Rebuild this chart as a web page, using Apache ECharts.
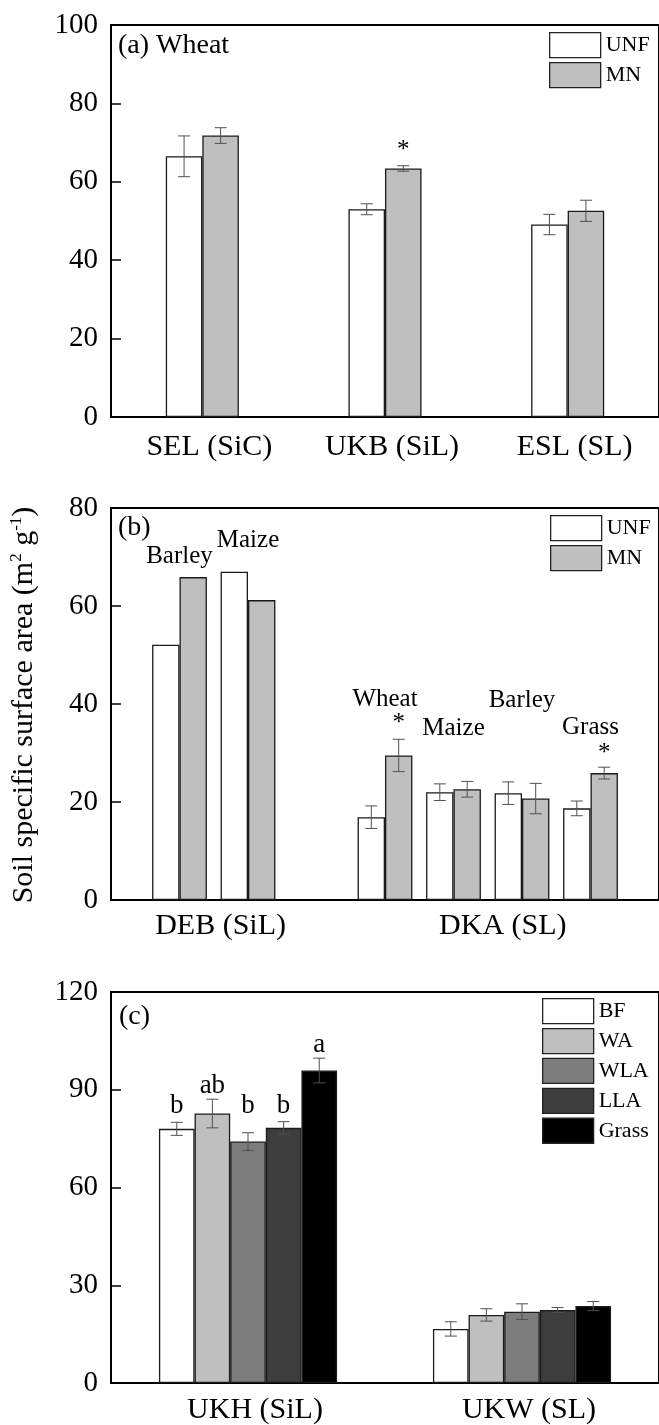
<!DOCTYPE html>
<html><head><meta charset="utf-8">
<script src="https://cdn.jsdelivr.net/npm/echarts@6/dist/echarts.min.js"></script>
<style>html,body{margin:0;padding:0;background:#fff}#c{width:659px;height:1425px}</style>
</head><body><div id="c"></div>
<script>
// ---------- Panel (a) Wheat ----------
const catsA = ['SEL (SiC)', 'UKB (SiL)', 'ESL (SL)'];
const unfA = [66.5, 53.0, 49.1];
const unfErrA = [5.2, 1.4, 2.6];
const mnA = [71.8, 63.4, 52.6];
const mnErrA = [2.0, 0.7, 2.7];
const sigMnA = ['', '*', ''];
const sigHeightA = [null, 68, null];
const yTicksA = [0, 20, 40, 60, 80, 100];

// ---------- Panel (b) ----------
const slotsB = ['', 'Barley', 'Maize', '', 'Wheat', 'Maize', 'Barley', 'Grass', ''];
const unfB = [null, 52.1, 67.0, null, 16.9, 22.0, 21.8, 18.7, null];
const unfErrB = [null, null, null, null, 2.3, 1.7, 2.3, 1.5, null];
const mnB = [null, 65.9, 61.2, null, 29.5, 22.6, 20.7, 25.9, null];
const mnErrB = [null, null, null, null, 3.3, 1.6, 3.1, 1.2, null];
const cropLabelHeightB = [null, 70.1, 73.3, null, 41.0, 35.0, 40.7, 35.2, null];
const sigMnB = ['', '', '', '', '*', '', '', '*', ''];
const sigHeightB = [null, null, null, null, 36.0, null, null, 29.9, null];
const siteLabelsB = ['DEB (SiL)', 'DKA (SL)'];
const siteLabelPosB = [1.6, 5.72];
const yTicksB = [0, 20, 40, 60, 80];

// ---------- Panel (c) ----------
const catsC = ['UKH (SiL)', 'UKW (SL)'];
const treatC = ['BF', 'WA', 'WLA', 'LLA', 'Grass'];
const bfC = [78.0, 16.6];     const bfErrC = [2.0, 2.2];
const waC = [82.7, 20.9];     const waErrC = [4.4, 1.9];
const wlaC = [74.1, 21.9];    const wlaErrC = [2.7, 2.4];
const llaC = [78.3, 22.4];    const llaErrC = [1.9, 0.75];
const grassC = [95.9, 23.6];  const grassErrC = [3.8, 1.4];
const lettersUKH = ['b', 'ab', 'b', 'b', 'a'];
const letterHeightUKH = [84.9, 91.2, 84.9, 84.9, 103.8];
const yTicksC = [0, 30, 60, 90, 120];

// ---------- styling ----------
const FONT = '"Liberation Serif", "Times New Roman", serif';
const ERR = '#505050';
const colorsAB = ['#ffffff', '#bfbfbf'];
const colorsC = ['#ffffff', '#bfbfbf', '#7d7d7d', '#3d3d3d', '#000000'];

function yAxis(gi, ticks) {
  return {
    type: 'value', gridIndex: gi, min: ticks[0], max: ticks[ticks.length - 1], interval: ticks[1] - ticks[0],
    axisLine: { show: true, lineStyle: { color: '#000', width: 2 } },
    axisTick: { show: true, inside: true, length: 10, lineStyle: { color: '#000', width: 1.5 } },
    axisLabel: { fontSize: 29, fontFamily: FONT, color: '#000', margin: 13 },
    splitLine: { show: false }
  };
}
function bar(name, data, color, xi, yi, width) {
  return {
    type: 'bar', name, data, xAxisIndex: xi, yAxisIndex: yi, barWidth: width, barGap: '0%',
    itemStyle: { color, borderColor: '#1a1a1a', borderWidth: 1.3 }, z: 2, silent: true
  };
}
function errSeries(xi, yi, vals, errs, frac) {
  const data = [];
  vals.forEach((v, i) => { if (v != null && errs[i] != null) data.push([i, v, errs[i]]); });
  return {
    type: 'custom', xAxisIndex: xi, yAxisIndex: yi, z: 5, silent: true, data, encode: { x: 0, y: 1 },
    renderItem: (p, api) => {
      const i = api.value(0), v = api.value(1), e = api.value(2);
      const band = api.size([1, 0])[0];
      const x = api.coord([i, v])[0] + frac * band;
      const yt = api.coord([i, v + e])[1], yb = api.coord([i, v - e])[1];
      const c = 6, st = { stroke: ERR, lineWidth: 1 };
      return { type: 'group', children: [
        { type: 'line', shape: { x1: x, y1: yt, x2: x, y2: yb }, style: st },
        { type: 'line', shape: { x1: x - c, y1: yt, x2: x + c, y2: yt }, style: st },
        { type: 'line', shape: { x1: x - c, y1: yb, x2: x + c, y2: yb }, style: st }
      ] };
    }
  };
}
function textSeries(xi, yi, items, size) {
  return {
    type: 'custom', xAxisIndex: xi, yAxisIndex: yi, z: 6, silent: true,
    data: items.map((it, k) => [it.cat, it.h, k]), encode: { x: 0, y: 1 },
    renderItem: (p, api) => {
      const it = items[api.value(2)];
      const band = api.size([1, 0])[0];
      const pt = api.coord([it.cat, it.h]);
      return { type: 'text', x: pt[0] + it.frac * band, y: pt[1],
        style: { text: it.text, fill: '#000', fontSize: size, fontFamily: FONT,
          align: 'center', verticalAlign: 'middle', textAlign: 'center', textVerticalAlign: 'middle' } };
    }
  };
}
function items(texts, heights, frac) {
  const out = [];
  texts.forEach((t, i) => { if (t && heights[i] != null) out.push({ cat: i, h: heights[i], text: t, frac }); });
  return out;
}
function legend(names, left, top) {
  return {
    data: names, orient: 'vertical', left, top, padding: 0, itemWidth: 51, itemHeight: 25, itemGap: 3.6,
    icon: 'rect', selectedMode: false,
    itemStyle: { borderColor: '#222', borderWidth: 1.3 },
    textStyle: { fontSize: 22, fontFamily: FONT, color: '#000', padding: [0, 0, 0, 0] }
  };
}
const catLabel = (margin) => ({ fontSize: 30, fontFamily: FONT, color: '#000', margin, padding: [0, 0, 0, 14], interval: 0 });
const gridBase = { left: 111, right: -3, height: 392, show: true, borderColor: '#000', borderWidth: 2, backgroundColor: 'transparent' };

const lettersItems = lettersUKH.map((t, k) => ({ cat: 0, h: letterHeightUKH[k], text: t, frac: (k - 2) * 0.13 }));

const option = {
  animation: false,
  backgroundColor: '#fff',
  textStyle: { fontFamily: FONT },
  grid: [
    Object.assign({ top: 25 }, gridBase),
    Object.assign({ top: 508 }, gridBase),
    Object.assign({ top: 992 }, gridBase)
  ],
  xAxis: [
    { type: 'category', gridIndex: 0, position: 'bottom', data: catsA, axisLine: { lineStyle: { color: '#000', width: 2 } },
      axisTick: { show: false }, axisLabel: catLabel(15) },
    { type: 'category', gridIndex: 1, position: 'bottom', data: slotsB, boundaryGap: false, axisLine: { lineStyle: { color: '#000', width: 2 } },
      axisTick: { show: false }, axisLabel: { show: false } },
    { type: 'value', gridIndex: 1, position: 'bottom', min: 0, max: slotsB.length - 1, axisLine: { show: false }, axisTick: { show: false },
      splitLine: { show: false },
      axisLabel: { fontSize: 30, fontFamily: FONT, color: '#000', margin: 11, customValues: siteLabelPosB,
        formatter: (v) => { const k = siteLabelPosB.indexOf(v); return k >= 0 ? siteLabelsB[k] : ''; } } },
    { type: 'category', gridIndex: 2, position: 'bottom', data: catsC, axisLine: { lineStyle: { color: '#000', width: 2 } },
      axisTick: { show: false }, axisLabel: catLabel(12) }
  ],
  yAxis: [yAxis(0, yTicksA), yAxis(1, yTicksB), yAxis(2, yTicksC)],
  legend: [
    legend(['UNF', 'MN'], 549, 32),
    legend(['UNF', 'MN'], 550, 515),
    legend(treatC, 542, 998)
  ],
  graphic: [
    { type: 'text', x: 118, y: 46, style: { text: '(a) Wheat', fill: '#000', fontSize: 28, fontFamily: FONT, align: 'left', verticalAlign: 'middle', textAlign: 'left', textVerticalAlign: 'middle' } },
    { type: 'text', x: 118, y: 528, style: { text: '(b)', fill: '#000', fontSize: 28, fontFamily: FONT, align: 'left', verticalAlign: 'middle', textAlign: 'left', textVerticalAlign: 'middle' } },
    { type: 'text', x: 119, y: 1017, style: { text: '(c)', fill: '#000', fontSize: 28, fontFamily: FONT, align: 'left', verticalAlign: 'middle', textAlign: 'left', textVerticalAlign: 'middle' } },
    { type: 'text', x: 24, y: 705, rotation: Math.PI / 2,
      style: { text: '{n|Soil specific surface area (m}{s|2}{n| g}{s|-1}{n|)}', fill: '#000',
        align: 'center', verticalAlign: 'middle', textAlign: 'center', textVerticalAlign: 'middle',
        rich: { n: { fontSize: 30, fontFamily: FONT, lineHeight: 32, fill: '#000', color: '#000' },
                s: { fontSize: 17, fontFamily: FONT, lineHeight: 17, verticalAlign: 'top', fill: '#000', color: '#000' } } } }
  ],
  series: [
    bar('UNF', unfA, colorsAB[0], 0, 0, '20%'),
    bar('MN', mnA, colorsAB[1], 0, 0, '20%'),
    errSeries(0, 0, unfA, unfErrA, -0.1),
    errSeries(0, 0, mnA, mnErrA, 0.1),
    textSeries(0, 0, items(sigMnA, sigHeightA, 0.1), 25),

    bar('UNF', unfB, colorsAB[0], 1, 1, '40%'),
    bar('MN', mnB, colorsAB[1], 1, 1, '40%'),
    errSeries(1, 1, unfB, unfErrB, -0.2),
    errSeries(1, 1, mnB, mnErrB, 0.2),
    textSeries(1, 1, items(slotsB, cropLabelHeightB, 0), 25),
    textSeries(1, 1, items(sigMnB, sigHeightB, 0.2), 25),

    bar('BF', bfC, colorsC[0], 3, 2, '13%'),
    bar('WA', waC, colorsC[1], 3, 2, '13%'),
    bar('WLA', wlaC, colorsC[2], 3, 2, '13%'),
    bar('LLA', llaC, colorsC[3], 3, 2, '13%'),
    bar('Grass', grassC, colorsC[4], 3, 2, '13%'),
    errSeries(3, 2, bfC, bfErrC, -0.26),
    errSeries(3, 2, waC, waErrC, -0.13),
    errSeries(3, 2, wlaC, wlaErrC, 0),
    errSeries(3, 2, llaC, llaErrC, 0.13),
    errSeries(3, 2, grassC, grassErrC, 0.26),
    textSeries(3, 2, lettersItems, 27)
  ]
};
const chart = echarts.init(document.getElementById('c'), null, { renderer: 'canvas' });
chart.setOption(option);
</script></body></html>
